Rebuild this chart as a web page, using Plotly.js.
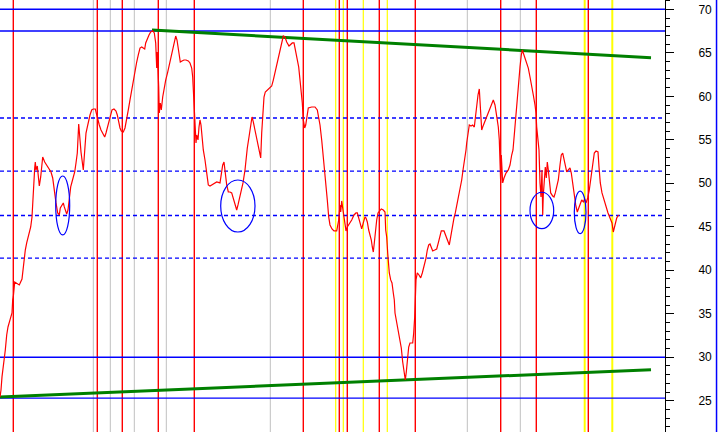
<!DOCTYPE html>
<html>
<head>
<meta charset="utf-8">
<script src="https://cdn.plot.ly/plotly-3.0.1.min.js"></script>
<style>html,body{margin:0;padding:0;background:#fff;}#chart{width:719px;height:432px;}</style>
</head>
<body>
<div id="chart"></div>
<script>
// ---- data (bar position, price) ----
const day = [0,1,2,4,5.3,6.7,8,10,12,12.7,13.3,14.7,16.7,19.3,22,23.3,25.3,26.7,28.7,30.7,32,32.7,34,34.7,35.3,36,37.3,38.7,39.3,40.7,42.7,44.7,48.3,51,52.7,54.3,56,57.7,59.3,60.3,62,63.3,64.3,65.7,66.7,68,69,70.7,72,73.3,74.7,76,77.3,78.7,80,81,83.3,86,87.3,88.7,90,91.7,93.3,95.3,96.7,98,99.3,101,102.7,104.7,106,107.3,108.7,110,112,114,116,117.3,118.7,120,121.3,123.3,125,126.7,128.3,130,132,133.3,135.3,136.7,138.3,140,141.7,143.3,144.7,145.7,147.3,149,150.7,152.7,154.3,155.7,156.7,157.3,158.7,159.3,160.3,161.3,162.7,164.3,165.7,167.7,169.3,171,172.7,174.3,175.7,177,178.3,179.3,180.3,182,184,186,188.3,190,191.7,192.7,193.7,194.7,195.3,196,196.7,198,199,200,201,202,203.3,205,206.7,208.3,210,213.3,216.7,220,221.3,222.7,224,225.3,226.7,228.3,230,231.7,233.3,235,236.7,238,239.7,241.5,243,245,246.7,247.3,249,250.7,252,253.3,255,256.7,258.3,260.7,261.7,262.7,264,265.3,267.3,269.3,271.7,273.3,275,276.7,278.3,280,281.7,283.3,285,286.7,289,290.7,292.3,294,295.3,297.3,298.7,300,301.3,302.3,303.3,304.7,305.7,306.7,308.3,311.7,315,317.3,318.7,320,321.7,322.7,323.3,325,326,327.3,328.7,330,332,334,336.7,337.7,338.7,340,340.7,341.7,342.7,343.7,344.7,346,347.3,349.3,351.7,354,356,357.3,358.7,360,361.7,363.3,365,366,367.3,368.7,370,371.3,372.3,373.3,374.3,375.3,376.7,378,379.3,381.3,383.3,385,385.7,386.7,387.7,388.3,389.3,390.7,392,393.3,394.3,395,396.7,398.3,400,401.3,402.7,404,405.3,406.3,407.3,408.7,410,412.7,413.7,414.7,416,417.3,419,420.7,422.3,424,426,427.3,428.7,430,431.3,432.7,434.7,436.7,438.3,440,441.3,444,446,447.7,449.3,450.7,452.3,454,455.3,457.3,458.7,460,461.7,463.3,465,466,466.7,468,469.3,471,472.7,474.3,475.3,476.7,478,479.3,480,481.7,482.7,486,490,493.3,495,498.3,499.3,500.7,501.3,502.7,504,506,508.3,510,511.7,513,514.7,516,517.3,518.7,520,521.3,522.3,523.3,525,526.7,528.3,530,531.7,533.3,535,536,536.7,537.7,539,540,541,542,542.7,543.3,544.3,545.3,546.3,547.3,548.3,549.3,550.7,552.7,554,555.3,556.7,558.3,560,561.3,562.7,564,565.3,566.7,568.3,570,571.3,572.7,574,575.7,577.3,578.7,580,581.7,583.3,584.7,586,587.7,589.3,591,592.7,594.3,596,598,599,600.3,602,604,606,608,610,612,613.3,614.7,616.7,618.7];
const price = [25.44,26.24,27.74,29.46,30.84,32.56,33.48,34.29,35.09,36.59,36.93,38.66,38.54,38.31,39.0,40.61,42.33,43.14,44.06,44.98,46.13,48.08,50.04,51.76,52.45,51.53,51.99,50.15,49.69,50.73,53.02,52.45,51.87,51.30,50.61,49.0,47.74,46.59,46.36,47.16,47.51,47.74,47.28,46.70,46.47,46.93,48.08,49.58,50.15,50.73,51.30,52.33,53.48,56.82,54.98,53.60,51.53,55.78,56.47,57.28,57.85,58.43,58.54,58.54,57.85,57.28,56.70,56.13,55.78,55.32,55.78,56.36,57.05,57.85,58.43,58.54,58.31,57.85,57.05,56.36,56.01,55.90,56.36,57.28,58.43,59.58,60.96,62.10,63.02,63.94,64.75,65.55,65.67,65.55,65.44,66.13,66.70,67.05,67.39,67.54,67.28,66.13,63.25,65.09,61.07,58.08,59.23,58.43,59.92,61.07,61.87,62.79,63.60,64.40,65.32,66.24,66.93,66.47,65.55,64.98,63.94,64.06,64.17,64.17,64.06,63.83,63.25,62.22,59.92,57.62,56.36,54.63,55.55,54.98,56.47,57.28,56.70,54.98,53.83,52.68,50.96,49.81,49.69,49.92,50.15,50.04,50.96,52.10,52.45,51.18,49.81,49.0,49.0,48.89,48.31,47.51,46.93,47.51,48.31,49.23,50.04,51.53,53.60,54.06,55.32,56.47,57.62,57.05,56.13,54.98,54.06,52.91,55.78,57.62,59.92,60.50,60.73,60.96,61.18,61.87,62.79,63.60,64.52,65.32,66.24,66.93,66.82,66.24,65.78,66.01,66.13,66.13,65.32,64.40,63.37,61.87,60.50,59.23,57.28,56.36,56.70,57.51,58.66,58.77,58.77,58.43,57.51,56.70,54.98,53.83,53.02,51.30,50.04,48.08,46.13,45.21,44.75,44.52,44.52,45.21,45.78,47.51,46.70,47.97,47.16,45.78,44.98,44.52,44.98,45.32,45.78,46.36,46.59,46.59,46.01,45.21,44.75,45.44,46.13,46.01,45.55,44.63,44.06,43.48,42.68,42.10,43.14,44.63,45.78,46.59,46.82,47.05,46.93,46.70,44.63,43.83,41.99,40.38,39.69,38.89,38.54,37.39,36.59,35.09,33.94,32.91,31.99,31.07,29.46,28.31,27.39,28.31,30.04,31.18,31.64,31.64,32.79,34.63,38.89,39.69,39.46,39.12,39.69,40.38,41.41,42.33,42.91,43.02,42.56,42.22,42.33,42.45,43.14,43.83,44.52,44.52,43.94,43.37,42.91,43.83,44.98,46.01,46.59,47.74,48.43,49.46,50.38,51.76,52.91,53.83,54.63,55.55,56.70,56.59,56.70,56.47,57.62,59.23,60.15,60.84,59.0,56.13,56.47,57.51,58.66,59.58,59.0,56.47,54.98,50.04,53.25,50.04,50.61,51.18,51.53,52.10,53.25,53.83,56.13,58.08,59.58,61.53,63.37,64.75,65.32,64.98,64.40,63.83,63.25,62.22,61.30,60.15,59.0,58.08,56.47,55.32,53.83,50.04,48.43,51.53,46.36,48.66,51.18,51.87,50.61,52.45,51.53,50.04,48.89,48.54,48.43,48.89,49.46,50.38,52.10,53.25,53.48,52.68,51.87,51.30,51.53,51.76,51.18,50.04,48.43,47.51,46.70,47.16,47.74,48.08,47.85,48.20,47.74,48.31,49.23,50.73,52.33,53.48,53.71,53.60,51.87,50.04,48.89,48.08,47.28,46.59,46.01,45.44,44.40,44.98,46.01,46.36];

// signal markers (bar positions)
const redSignals = [13.3,97.3,122.3,158.3,194.3,303.3,339.3,347.3,379.3,415.3,500.7,536.3,588.3];
const graySignals = [93.3,110.3,134.3,166.3,270.3,467.3,520.3];
const yellowSignals = [335.7,343.3,363.3,387.3];
const yellowSignalsBold = [584.7,612.3];

// horizontal levels
const solidLevels = [70, 67.5, 30, 25.3];
const dashedLevels = [57.5, 51.4, 46.3, 41.4];

// trend lines [x0, x1], [y0, y1]
const upperTrendX = [152, 651], upperTrendY = [67.62, 64.44];
const lowerTrendX = [0, 651],   lowerTrendY = [25.44, 28.57];

// highlight ellipses: x0, x1, y0, y1
const ellipseX0 = [55.7, 220.7, 530, 574.3];
const ellipseX1 = [69.7, 255, 553.7, 586];
const ellipseY0 = [44.06, 44.40, 44.78, 44.21];
const ellipseY1 = [50.84, 50.38, 48.97, 49.11];

const yTicks = [25,30,35,40,45,50,55,60,65,70];

// ---- build ----
const shapes = [];
graySignals.forEach(x => shapes.push({type:'line', xref:'x', yref:'paper', x0:x, x1:x, y0:0, y1:1, layer:'below', line:{color:'#c0c0c0', width:1}}));
yellowSignals.forEach(x => shapes.push({type:'line', xref:'x', yref:'paper', x0:x, x1:x, y0:0, y1:1, layer:'below', line:{color:'#ffff00', width:1.2}}));
yellowSignalsBold.forEach(x => shapes.push({type:'line', xref:'x', yref:'paper', x0:x, x1:x, y0:0, y1:1, layer:'below', line:{color:'#ffff00', width:2}}));
redSignals.forEach(x => shapes.push({type:'line', xref:'x', yref:'paper', x0:x, x1:x, y0:0, y1:1, layer:'below', line:{color:'#ff0000', width:1.4}}));
solidLevels.forEach(y => shapes.push({type:'line', xref:'paper', yref:'y', x0:0, x1:1, y0:y, y1:y, layer:'below', line:{color:'#0000ff', width:1.4}}));
dashedLevels.forEach(y => shapes.push({type:'line', xref:'paper', yref:'y', x0:0, x1:1, y0:y, y1:y, layer:'below', line:{color:'#0000ff', width:1.4, dash:'4px,3px'}}));
ellipseX0.forEach((x0,i) => shapes.push({type:'circle', xref:'x', yref:'y', x0:x0, x1:ellipseX1[i], y0:ellipseY0[i], y1:ellipseY1[i], layer:'above', line:{color:'#0000ff', width:1.2}}));
// right frame border
shapes.push({type:'line', xref:'paper', yref:'paper', x0:1.0775, x1:1.0775, y0:0, y1:1, line:{color:'#0000ff', width:1.5}});

const traces = [
  {x: upperTrendX, y: upperTrendY, type:'scatter', mode:'lines', line:{color:'#008000', width:3}, hoverinfo:'skip'},
  {x: lowerTrendX, y: lowerTrendY, type:'scatter', mode:'lines', line:{color:'#008000', width:3}, hoverinfo:'skip'},
  {x: day, y: price, type:'scatter', mode:'lines', line:{color:'#ff0000', width:1.2}}
];

const layout = {
  width: 719, height: 432,
  margin: {l:0, r:54, t:0, b:0, pad:0},
  paper_bgcolor:'#ffffff', plot_bgcolor:'#ffffff',
  showlegend:false,
  xaxis: {range:[0,665], visible:false, fixedrange:true},
  yaxis: {
    side:'right', range:[21.41, 71.07], showgrid:false, zeroline:false,
    showline:true, linecolor:'#000000', linewidth:1,
    ticks:'outside', ticklen:8, tickcolor:'#000000', tickwidth:1,
    tickvals: yTicks, ticktext: yTicks.map(String),
    tickfont:{family:'Liberation Sans, Arial, sans-serif', size:12, color:'#000000'},
    ticklabelstandoff: 22,
    minor:{dtick:1, tick0:0, ticks:'outside', ticklen:4, tickcolor:'#000000', tickwidth:1, showgrid:false},
    fixedrange:true
  },
  shapes: shapes
};

Plotly.newPlot('chart', traces, layout, {staticPlot:true, displayModeBar:false});
</script>
</body>
</html>
